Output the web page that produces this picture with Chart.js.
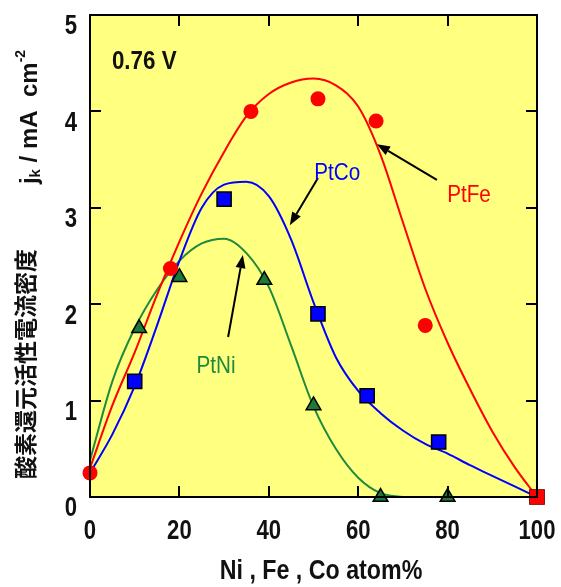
<!DOCTYPE html>
<html>
<head>
<meta charset="utf-8">
<script src="https://cdn.jsdelivr.net/npm/chart.js@4.4.1/dist/chart.umd.min.js"></script>
<style>body{margin:0;background:#fff}</style>
</head>
<body>
<canvas id="myChart" width="561" height="587"></canvas>
<script>
// measured points
const feX = [0, 18, 36, 51, 64, 75, 100];
const feY = [0.25, 2.37, 4.0, 4.13, 3.9, 1.78, 0];
const coX = [10, 30, 51, 62, 78, 100];
const coY = [1.2, 3.09, 1.9, 1.05, 0.57, 0];
const niX = [11, 20, 39, 50, 65, 80];
const niY = [1.75, 2.28, 2.25, 0.95, 0, 0];

// fitted curves, every 5 atom%
const fitX = [0, 5, 10, 15, 20, 25, 30, 35, 40, 45, 50, 55, 60, 65, 70, 75, 80, 85, 90, 95, 100];
const feFit = [0.3, 0.95, 1.5, 2.1, 2.65, 3.15, 3.58, 3.95, 4.18, 4.3, 4.34, 4.27, 4.05, 3.55, 2.85, 2.16, 1.6, 1.12, 0.68, 0.31, 0];
const coFit = [0.25, 0.65, 1.15, 1.78, 2.45, 3.0, 3.24, 3.27, 3.12, 2.67, 2.02, 1.45, 1.1, 0.87, 0.69, 0.55, 0.45, 0.33, 0.22, 0.11, 0];
const niFitX = [0, 5, 10, 15, 20, 25, 30, 35, 40, 45, 50, 55, 60, 65, 70];
const niFit = [0.38, 1.2, 1.75, 2.15, 2.45, 2.63, 2.68, 2.53, 2.18, 1.57, 0.94, 0.5, 0.2, 0.04, 0];

const xTicks = [0, 20, 40, 60, 80, 100];
const yTicks = [0, 1, 2, 3, 4, 5];

const pts = (xs, ys) => xs.map((x, i) => ({x: x, y: ys[i]}));

const RED = '#ff0000', BLUE = '#0000ff', GREEN = '#1f8a3e';
const SANS = "'Liberation Sans', Arial, sans-serif";

// labels and arrows, placed in data units
const notes = [
  {text: '0.76 V', x: 4.9, y: 4.51, color: '#111', align: 'left', weight: 'bold', size: 26},
  {text: 'PtCo', x: 55.3, y: 3.36, color: BLUE, align: 'center', weight: '', size: 24},
  {text: 'PtFe', x: 84.8, y: 3.13, color: RED, align: 'center', weight: '', size: 24},
  {text: 'PtNi', x: 28.2, y: 1.36, color: GREEN, align: 'center', weight: '', size: 24}
];
const arrows = [
  {from: [51.0, 3.31], to: [44.7, 2.82]},
  {from: [77.6, 3.29], to: [64.2, 3.66]},
  {from: [30.9, 1.66], to: [34.2, 2.51]}
];

// condensed text: the figure uses a narrow bold face
function narrowText(ctx, text, x, y, font, align, squeeze) {
  ctx.save();
  ctx.font = font;
  ctx.textAlign = align;
  ctx.textBaseline = 'middle';
  ctx.translate(x, y);
  ctx.scale(squeeze, 1);
  ctx.fillText(text, 0, 0);
  ctx.restore();
}

const decor = {
  id: 'decor',
  beforeDraw(chart) {
    const {ctx, chartArea: a} = chart;
    ctx.save();
    ctx.fillStyle = '#ffff80';
    ctx.fillRect(a.left, a.top, a.right - a.left, a.bottom - a.top);
    ctx.restore();
  },
  afterDraw(chart) {
    const {ctx, chartArea: a, scales} = chart;
    const sx = scales.x, sy = scales.y;
    ctx.save();
    // frame and inward ticks
    ctx.strokeStyle = '#000';
    ctx.lineWidth = 2;
    ctx.strokeRect(a.left, a.top, a.right - a.left, a.bottom - a.top);
    ctx.beginPath();
    xTicks.slice(1, -1).forEach(v => {
      const px = Math.round(sx.getPixelForValue(v));
      ctx.moveTo(px, a.bottom); ctx.lineTo(px, a.bottom - 11);
      ctx.moveTo(px, a.top); ctx.lineTo(px, a.top + 11);
    });
    yTicks.slice(1, -1).forEach(v => {
      const py = Math.round(sy.getPixelForValue(v));
      ctx.moveTo(a.left, py); ctx.lineTo(a.left + 11, py);
      ctx.moveTo(a.right, py); ctx.lineTo(a.right - 11, py);
    });
    ctx.stroke();

    // tick labels
    ctx.fillStyle = '#111';
    const tickFont = 'bold 27px ' + SANS;
    sx.ticks.forEach(t => narrowText(ctx, String(t.value), sx.getPixelForValue(t.value), a.bottom + 35, tickFont, 'center', 0.82));
    sy.ticks.forEach(t => narrowText(ctx, String(t.value), a.left - 13, sy.getPixelForValue(t.value) + 12, tickFont, 'right', 0.82));

    // arrows
    ctx.fillStyle = '#000';
    ctx.lineWidth = 2;
    arrows.forEach(ar => {
      const x0 = sx.getPixelForValue(ar.from[0]), y0 = sy.getPixelForValue(ar.from[1]);
      const x1 = sx.getPixelForValue(ar.to[0]), y1 = sy.getPixelForValue(ar.to[1]);
      const ang = Math.atan2(y1 - y0, x1 - x0);
      const hl = 13, hw = 5;
      const bx = x1 - hl * Math.cos(ang), by = y1 - hl * Math.sin(ang);
      ctx.beginPath();
      ctx.moveTo(x0, y0); ctx.lineTo(bx, by);
      ctx.stroke();
      ctx.beginPath();
      ctx.moveTo(x1, y1);
      ctx.lineTo(bx + hw * Math.sin(ang), by - hw * Math.cos(ang));
      ctx.lineTo(bx - hw * Math.sin(ang), by + hw * Math.cos(ang));
      ctx.closePath();
      ctx.fill();
    });

    // text notes
    notes.forEach(n => {
      ctx.fillStyle = n.color;
      narrowText(ctx, n.text, sx.getPixelForValue(n.x), sy.getPixelForValue(n.y),
        (n.weight ? n.weight + ' ' : '') + n.size + 'px ' + SANS, n.align, 0.86);
    });

    // x axis title
    ctx.fillStyle = '#111';
    narrowText(ctx, 'Ni , Fe , Co atom%', 321, 572, 'bold 27px ' + SANS, 'center', 0.86);

    // y axis title, rotated
    ctx.save();
    ctx.translate(30, 117);
    ctx.rotate(-Math.PI / 2);
    ctx.textAlign = 'left';
    ctx.textBaseline = 'middle';
    const parts = [
      ['j', 'bold 24px ' + SANS, 0],
      ['k', 'bold 15px ' + SANS, 6],
      [' / mA  cm', 'bold 24px ' + SANS, 0],
      ['-2', 'bold 14px ' + SANS, -9]
    ];
    let w = 0;
    parts.forEach(p => { ctx.font = p[1]; w += ctx.measureText(p[0]).width; });
    let cx = -w / 2;
    parts.forEach(p => {
      ctx.font = p[1];
      ctx.fillText(p[0], cx, p[2]);
      cx += ctx.measureText(p[0]).width;
    });
    ctx.restore();

    ctx.save();
    ctx.translate(25, 364);
    ctx.rotate(-Math.PI / 2);
    ctx.textAlign = 'center';
    ctx.textBaseline = 'middle';
    ctx.font = "bold 23px 'Noto Sans CJK JP', sans-serif";
    ctx.fillText('酸素還元活性電流密度', 0, 0);
    ctx.restore();

    ctx.restore();
  }
};

new Chart(document.getElementById('myChart'), {
  type: 'scatter',
  data: {
    datasets: [
      {label: 'PtFe', data: pts(feX, feY), order: 0, clip: false,
       pointStyle: feX.map(x => x === 100 ? 'rect' : 'circle'),
       pointRadius: feX.map(x => x === 100 ? 10.5 : 7.5),
       backgroundColor: RED, borderColor: RED, borderWidth: 0},
      {label: 'PtCo', data: pts(coX, coY), order: 1, clip: false,
       pointStyle: 'rect', pointRadius: 10,
       backgroundColor: BLUE, borderColor: '#000', borderWidth: 1.5},
      {label: 'PtNi', data: pts(niX, niY), order: 1, clip: false,
       pointStyle: 'triangle', pointRadius: 8.5,
       backgroundColor: '#1c7a38', borderColor: '#000', borderWidth: 1.5},
      {label: 'PtFe fit', type: 'line', data: pts(fitX, feFit), order: 3,
       borderColor: RED, borderWidth: 2, pointRadius: 0, cubicInterpolationMode: 'monotone', fill: false},
      {label: 'PtCo fit', type: 'line', data: pts(fitX, coFit), order: 3,
       borderColor: BLUE, borderWidth: 2, pointRadius: 0, cubicInterpolationMode: 'monotone', fill: false},
      {label: 'PtNi fit', type: 'line', data: pts(niFitX, niFit), order: 3,
       borderColor: GREEN, borderWidth: 2, pointRadius: 0, cubicInterpolationMode: 'monotone', fill: false}
    ]
  },
  options: {
    responsive: false,
    animation: false,
    events: [],
    layout: {padding: {top: 15, right: 24, left: 0, bottom: 0}},
    plugins: {legend: {display: false}, tooltip: {enabled: false}},
    scales: {
      x: {
        type: 'linear', min: 0, max: 100,
        afterFit: s => { s.height = 90; s.paddingLeft = 0; s.paddingRight = 0; },
        afterBuildTicks: s => { s.ticks = xTicks.map(v => ({value: v})); },
        grid: {display: false, drawTicks: false},
        border: {display: false},
        ticks: {display: false}
      },
      y: {
        type: 'linear', min: 0, max: 5,
        afterFit: s => { s.width = 90; s.paddingTop = 0; s.paddingBottom = 0; },
        afterBuildTicks: s => { s.ticks = yTicks.map(v => ({value: v})); },
        grid: {display: false, drawTicks: false},
        border: {display: false},
        ticks: {display: false}
      }
    }
  },
  plugins: [decor]
});
</script>
</body>
</html>
